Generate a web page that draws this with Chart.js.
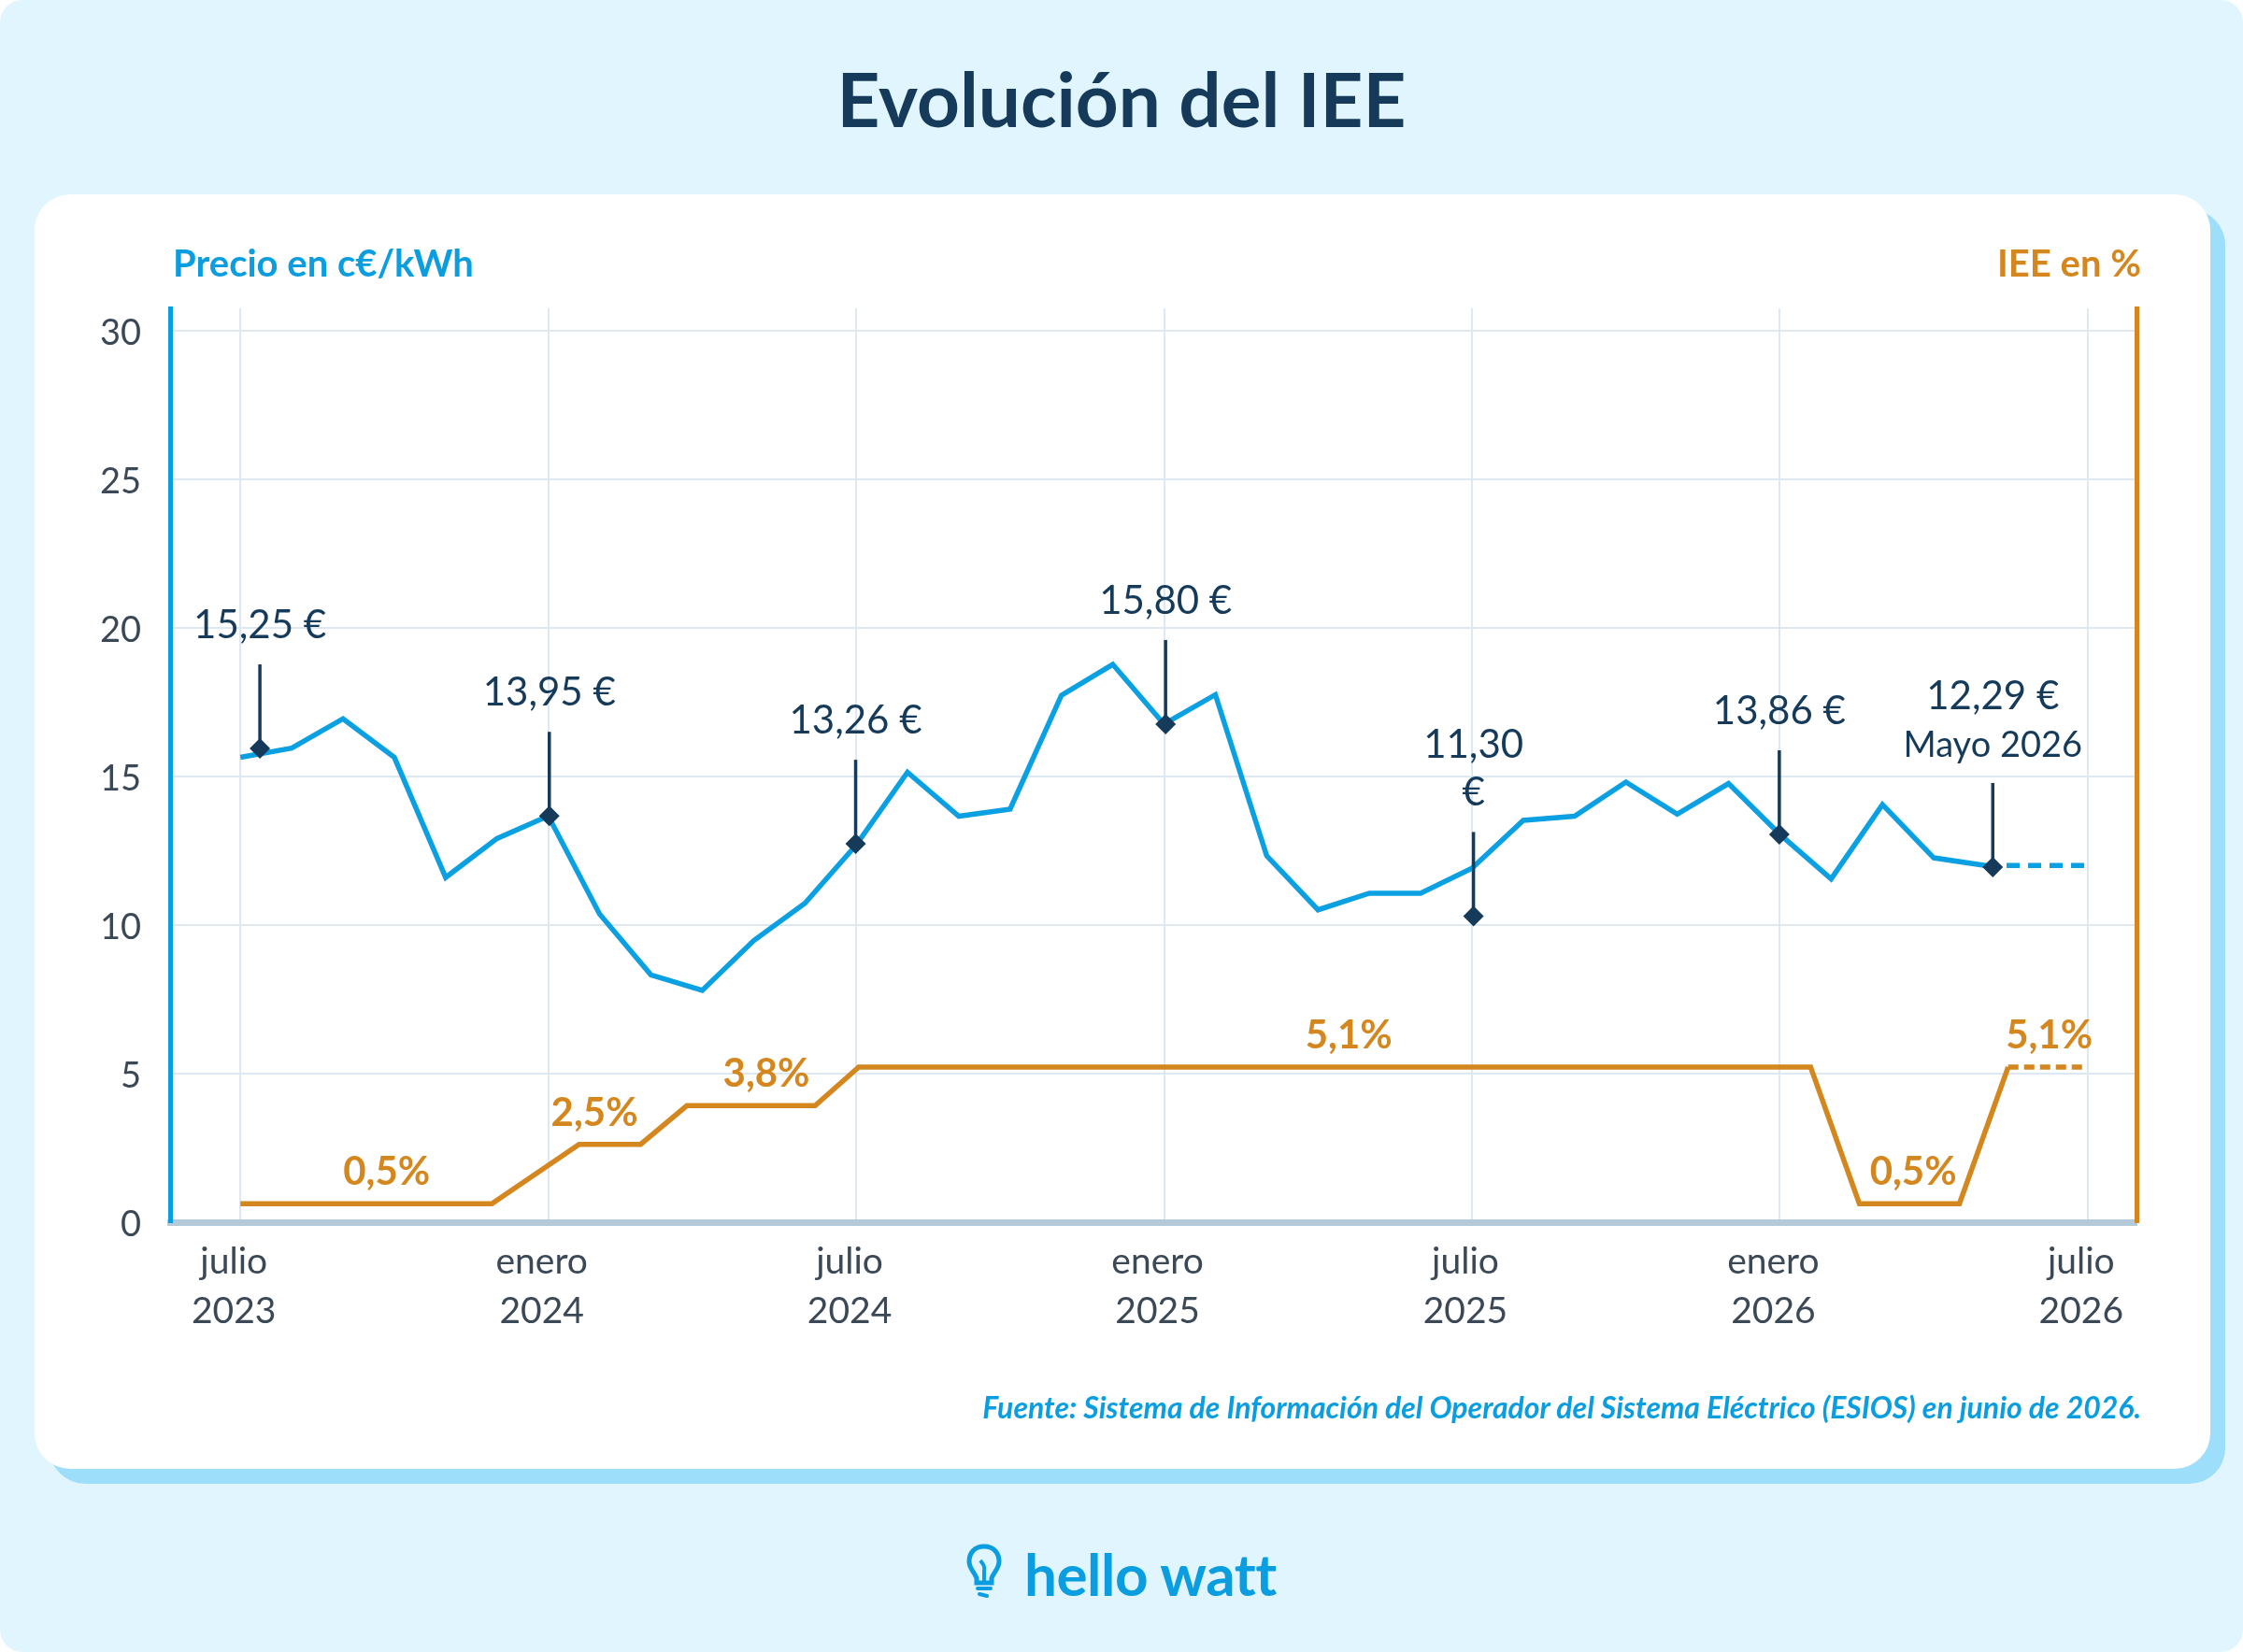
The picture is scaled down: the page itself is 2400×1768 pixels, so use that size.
<!DOCTYPE html>
<html lang="es">
<head>
<meta charset="utf-8">
<title>Evolución del IEE</title>
<script src="https://cdn.jsdelivr.net/npm/chart.js@4.4.1/dist/chart.umd.min.js"></script>
<style>
  html, body { margin: 0; padding: 0; background: #ffffff; }
  body { width: 2400px; height: 1768px; position: relative; overflow: hidden; font-family: Lato, "Noto Sans", sans-serif; }
  .fondo { position: absolute; left: 0; top: 0; width: 2400px; height: 1768px; background: #e0f5fe; border-radius: 24px; }
  .sombra { position: absolute; left: 53px; top: 224px; width: 2328px; height: 1364px; background: #9ddffb; border-radius: 38px; }
  .tarjeta { position: absolute; left: 37px; top: 208px; width: 2328px; height: 1364px; background: #ffffff; border-radius: 38px; }
  #grafico { position: absolute; left: 0; top: 0; z-index: 2; }
  .texto { position: absolute; z-index: 3; line-height: 1; white-space: nowrap; }
  .titulo { left: 0; width: 2400px; top: 65px; text-align: center; font-size: 80px; font-weight: 700; color: #163a5a; }
  .eje-izq { left: 185px; top: 261px; font-size: 40px; font-weight: 700; color: #0a9de0; }
  .eje-der { right: 109px; top: 261px; font-size: 40px; font-weight: 700; color: #d4871e; }
  .fuente { right: 109px; top: 1490px; font-size: 32px; font-weight: 700; font-style: italic; color: #0a9de0; }
  .logo { left: 1096px; top: 1653px; font-size: 62px; font-weight: 700; color: #0a9de0; letter-spacing: -0.5px; }
  .bombilla { position: absolute; z-index: 3; left: 1032px; top: 1650px; }
</style>
</head>
<body>
<div class="fondo"></div>
<div class="sombra"></div>
<div class="tarjeta"></div>
<canvas id="grafico" width="2400" height="1768"></canvas>
<div class="texto titulo">Evolución del IEE</div>
<div class="texto eje-izq">Precio en c€/kWh</div>
<div class="texto eje-der">IEE en %</div>
<div class="texto fuente">Fuente: Sistema de Información del Operador del Sistema Eléctrico (ESIOS) en junio de 2026.</div>
<svg class="bombilla" width="42" height="64" viewBox="0 0 42 64">
  <path d="M21 5 C10 5 5 13 5 21 C5 29 11 33 13 39 L13 44 L29 44 L29 39 C31 33 37 29 37 21 C37 13 32 5 21 5 Z" fill="none" stroke="#0a9de0" stroke-width="5"/>
  <path d="M17 20 C20 24 22 26 21 32 L21 44" fill="none" stroke="#0a9de0" stroke-width="4"/>
  <path d="M14 50 L28 50 M16 56 L24 58" fill="none" stroke="#0a9de0" stroke-width="4" stroke-linecap="round"/>
</svg>
<div class="texto logo">hello watt</div>

<script>
// Eje X: meses desde julio 2023 (0) hasta julio 2026 (36)
const ticksEje = [
  ["julio", "2023"],
  ["enero", "2024"],
  ["julio", "2024"],
  ["enero", "2025"],
  ["julio", "2025"],
  ["enero", "2026"],
  ["julio", "2026"],
];

// Precio mensual en c€/kWh, julio 2023 a mayo 2026
const precios = [
  15.64, 15.95, 16.94, 15.64, 11.6, 12.91, 13.67, 10.37, 8.32, 7.8, 9.47, 10.73,
  12.69, 15.14, 13.66, 13.9, 17.73, 18.77, 16.76, 17.75, 12.33, 10.51, 11.07,
  11.07, 11.91, 13.52, 13.66, 14.81, 13.73, 14.76, 13.05, 11.55, 14.05, 12.26,
  12.0,
];
const precioProyectado = 12.0; // julio 2026

// IEE en %
const mesesIEE = [0, 4.9, 6.6, 7.8, 8.7, 11.2, 12.05, 30.6, 31.55, 33.5, 34.45];
const valoresIEE = [0.5, 0.5, 2.5, 2.5, 3.8, 3.8, 5.1, 5.1, 0.5, 0.5, 5.1];
const ieeProyectado = 5.1;

// Etiquetas del IEE
const ieeEtiquetas = ["0,5%", "2,5%", "3,8%", "5,1%", "0,5%", "5,1%"];
const ieeEtiquetaMes = [2.85, 6.9, 10.25, 21.6, 32.6, 35.25];
const ieeEtiquetaValor = [0.5, 2.5, 3.8, 5.1, 0.5, 5.1];

// Marcadores de precio
const anotMes = [0.38, 6.02, 11.99, 18.03, 24.03, 29.99, 34.15];
const anotValor = [15.94, 13.67, 12.73, 16.76, 10.3, 13.05, 11.95];
const anotTexto = [
  ["15,25 €"],
  ["13,95 €"],
  ["13,26 €"],
  ["15,80 €"],
  ["11,30", "€"],
  ["13,86 €"],
  ["12,29 €", "Mayo 2026"],
];

const azul = "#0aa0e2";
const naranja = "#d4871e";
const marino = "#163a5a";
const gris = "#3b4856";
const rejilla = "#dde8f1";

const anotaciones = {
  id: "anotaciones",
  afterDatasetsDraw(chart) {
    const { ctx } = chart;
    const { x, y, y2 } = chart.scales;
    ctx.save();

    anotMes.forEach((mes, i) => {
      const px = x.getPixelForValue(mes);
      const py = y.getPixelForValue(anotValor[i]);
      const arriba = py - 90;

      ctx.strokeStyle = marino;
      ctx.lineWidth = 3.5;
      ctx.beginPath();
      ctx.moveTo(px, py);
      ctx.lineTo(px, arriba);
      ctx.stroke();

      ctx.fillStyle = marino;
      ctx.beginPath();
      ctx.moveTo(px, py - 11);
      ctx.lineTo(px + 11, py);
      ctx.lineTo(px, py + 11);
      ctx.lineTo(px - 11, py);
      ctx.closePath();
      ctx.fill();

      const lineas = anotTexto[i];
      ctx.textAlign = "center";
      ctx.textBaseline = "alphabetic";
      lineas.forEach((t, j) => {
        const pequena = j > 0 && !t.includes("€");
        ctx.font = (pequena ? "38px" : "42px") + " Lato";
        const desdeAbajo = lineas.length - 1 - j;
        ctx.fillText(t, px, arriba - 28 - desdeAbajo * 51);
      });
    });

    ctx.fillStyle = naranja;
    ctx.font = "bold 42px Lato";
    ctx.textAlign = "center";
    ctx.textBaseline = "alphabetic";
    ieeEtiquetas.forEach((t, i) => {
      const px = x.getPixelForValue(ieeEtiquetaMes[i]);
      const py = y2.getPixelForValue(ieeEtiquetaValor[i]);
      ctx.fillText(t, px, py - 20);
    });

    ctx.restore();
  },
};

function dibujar() {
  Chart.defaults.font.family = "Lato";
  const ctx = document.getElementById("grafico").getContext("2d");

  new Chart(ctx, {
    type: "line",
    data: {
      datasets: [
        {
          label: "Precio",
          data: precios.map((v, i) => ({ x: i, y: v })),
          borderColor: azul,
          borderWidth: 5.5,
          pointRadius: 0,
          tension: 0,
          yAxisID: "y",
        },
        {
          label: "Precio previsto",
          data: [
            { x: precios.length - 1, y: precios[precios.length - 1] },
            { x: 36, y: precioProyectado },
          ],
          borderColor: azul,
          borderWidth: 5.5,
          borderDash: [14, 9],
          pointRadius: 0,
          yAxisID: "y",
        },
        {
          label: "IEE",
          data: mesesIEE.map((m, i) => ({ x: m, y: valoresIEE[i] })),
          borderColor: naranja,
          borderWidth: 5.5,
          pointRadius: 0,
          tension: 0,
          yAxisID: "y2",
        },
        {
          label: "IEE previsto",
          data: [
            { x: mesesIEE[mesesIEE.length - 1], y: valoresIEE[valoresIEE.length - 1] },
            { x: 36, y: ieeProyectado },
          ],
          borderColor: naranja,
          borderWidth: 5.5,
          borderDash: [11, 6],
          pointRadius: 0,
          yAxisID: "y2",
        },
      ],
    },
    options: {
      responsive: false,
      animation: false,
      layout: {
        padding: { top: 330, right: 114, bottom: 320, left: 0 },
      },
      plugins: {
        legend: { display: false },
        tooltip: { enabled: false },
      },
      scales: {
        x: {
          type: "linear",
          min: -1.37,
          max: 36.95,
          afterBuildTicks: (axis) => {
            axis.ticks = ticksEje.map((t, i) => ({ value: i * 6 }));
          },
          afterFit: (scale) => {
            scale.height = 140;
          },
          ticks: {
            callback: (v) => ticksEje[Math.round(v / 6)],
            font: { size: 39, lineHeight: 1.36 },
            color: gris,
            padding: 16,
            labelOffset: -7,
            maxRotation: 0,
          },
          grid: { color: rejilla, lineWidth: 2, drawTicks: false },
          border: { color: "#b5cad9", width: 7 },
        },
        y: {
          min: 0,
          max: 30.75,
          afterFit: (scale) => {
            scale.width = 182;
          },
          ticks: {
            stepSize: 5,
            includeBounds: false,
            font: { size: 38 },
            color: gris,
            padding: 31,
            labelOffset: 3,
          },
          grid: { color: rejilla, lineWidth: 2, drawTicks: false },
          border: { color: "#0a9de0", width: 5 },
        },
        y2: {
          position: "right",
          min: -0.12,
          max: 30.63,
          afterFit: (scale) => {
            scale.width = 0;
          },
          ticks: { display: false },
          grid: { drawOnChartArea: false, drawTicks: false },
          border: { color: naranja, width: 5 },
        },
      },
    },
    plugins: [anotaciones],
  });
}

document.addEventListener("DOMContentLoaded", function () {
  Promise.all([
    document.fonts.load("42px Lato"),
    document.fonts.load("bold 42px Lato"),
  ]).then(dibujar, dibujar);
});
</script>
</body>
</html>
